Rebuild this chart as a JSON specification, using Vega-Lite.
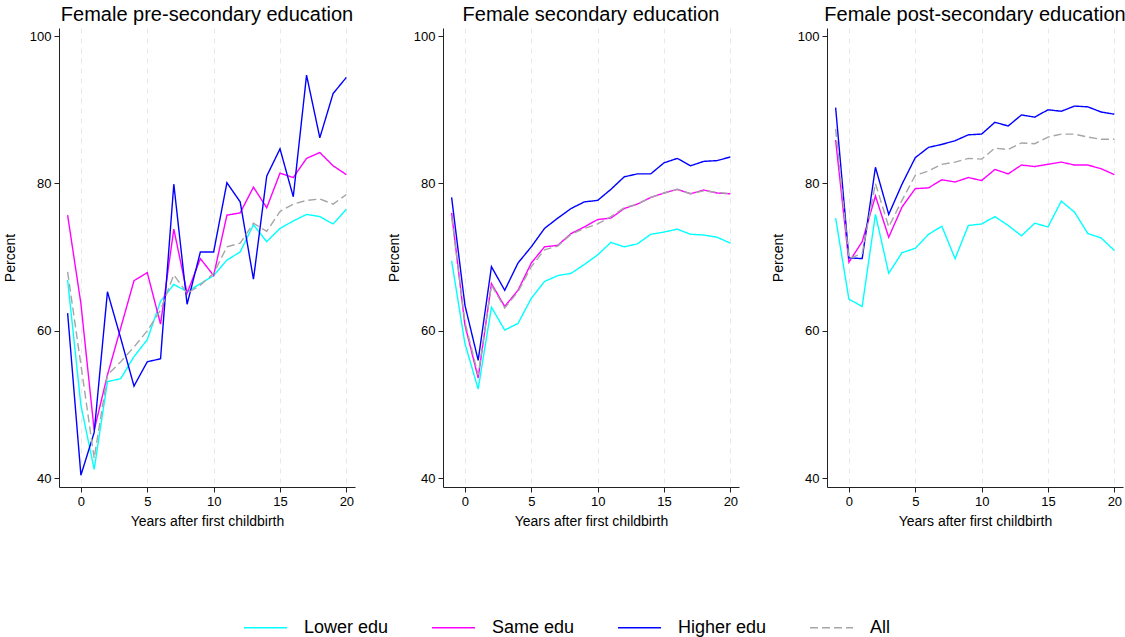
{
  "$schema": "https://vega.github.io/schema/vega-lite/v6.json",
  "background": "white",
  "padding": {"left": 3, "top": 5, "right": 0, "bottom": 0},
  "spacing": 32,
  "config": {
    "font": "Liberation Sans",
    "view": {"stroke": null},
    "title": {"fontSize": 20, "fontWeight": "normal", "color": "#000000", "anchor": "middle", "offset": 3},
    "axis": {
      "domainColor": "#222222", "tickColor": "#222222", "tickSize": 5,
      "labelFontSize": 13, "labelColor": "#000000", "labelPadding": 3,
      "titleFontSize": 14, "titleFontWeight": "normal", "titleColor": "#000000", "titlePadding": 6
    },
    "axisY": {"titlePadding": 12},
    "legend": {
      "orient": "none", "legendX": 184, "legendY": 577, "direction": "horizontal",
      "columns": 4, "columnPadding": 40, "padding": 0,
      "labelFontSize": 18, "labelColor": "#000000", "labelOffset": 16,
      "symbolType": "stroke", "symbolSize": 1849, "symbolStrokeWidth": 1.5
    }
  },
  "data": {"values": [
    {"p":"pre","g":"Lower edu","x":-1,"y":66.9},{"p":"pre","g":"Lower edu","x":0,"y":49.9},{"p":"pre","g":"Lower edu","x":1,"y":41.2},{"p":"pre","g":"Lower edu","x":2,"y":53.1},{"p":"pre","g":"Lower edu","x":3,"y":53.5},{"p":"pre","g":"Lower edu","x":4,"y":56.5},{"p":"pre","g":"Lower edu","x":5,"y":58.8},{"p":"pre","g":"Lower edu","x":6,"y":64.0},{"p":"pre","g":"Lower edu","x":7,"y":66.3},{"p":"pre","g":"Lower edu","x":8,"y":65.3},{"p":"pre","g":"Lower edu","x":9,"y":66.4},{"p":"pre","g":"Lower edu","x":10,"y":67.5},{"p":"pre","g":"Lower edu","x":11,"y":69.6},{"p":"pre","g":"Lower edu","x":12,"y":70.7},{"p":"pre","g":"Lower edu","x":13,"y":74.4},{"p":"pre","g":"Lower edu","x":14,"y":72.1},{"p":"pre","g":"Lower edu","x":15,"y":73.9},{"p":"pre","g":"Lower edu","x":16,"y":74.9},{"p":"pre","g":"Lower edu","x":17,"y":75.8},{"p":"pre","g":"Lower edu","x":18,"y":75.5},{"p":"pre","g":"Lower edu","x":19,"y":74.5},{"p":"pre","g":"Lower edu","x":20,"y":76.5},
    {"p":"pre","g":"Same edu","x":-1,"y":75.7},{"p":"pre","g":"Same edu","x":0,"y":63.7},{"p":"pre","g":"Same edu","x":1,"y":46.5},{"p":"pre","g":"Same edu","x":2,"y":54.0},{"p":"pre","g":"Same edu","x":3,"y":60.4},{"p":"pre","g":"Same edu","x":4,"y":66.8},{"p":"pre","g":"Same edu","x":5,"y":67.9},{"p":"pre","g":"Same edu","x":6,"y":60.9},{"p":"pre","g":"Same edu","x":7,"y":73.8},{"p":"pre","g":"Same edu","x":8,"y":65.1},{"p":"pre","g":"Same edu","x":9,"y":69.8},{"p":"pre","g":"Same edu","x":10,"y":67.5},{"p":"pre","g":"Same edu","x":11,"y":75.7},{"p":"pre","g":"Same edu","x":12,"y":76.0},{"p":"pre","g":"Same edu","x":13,"y":79.5},{"p":"pre","g":"Same edu","x":14,"y":76.7},{"p":"pre","g":"Same edu","x":15,"y":81.4},{"p":"pre","g":"Same edu","x":16,"y":80.8},{"p":"pre","g":"Same edu","x":17,"y":83.4},{"p":"pre","g":"Same edu","x":18,"y":84.2},{"p":"pre","g":"Same edu","x":19,"y":82.4},{"p":"pre","g":"Same edu","x":20,"y":81.2},
    {"p":"pre","g":"Higher edu","x":-1,"y":62.4},{"p":"pre","g":"Higher edu","x":0,"y":40.4},{"p":"pre","g":"Higher edu","x":1,"y":46.2},{"p":"pre","g":"Higher edu","x":2,"y":65.3},{"p":"pre","g":"Higher edu","x":3,"y":59.0},{"p":"pre","g":"Higher edu","x":4,"y":52.5},{"p":"pre","g":"Higher edu","x":5,"y":55.8},{"p":"pre","g":"Higher edu","x":6,"y":56.2},{"p":"pre","g":"Higher edu","x":7,"y":79.9},{"p":"pre","g":"Higher edu","x":8,"y":63.6},{"p":"pre","g":"Higher edu","x":9,"y":70.7},{"p":"pre","g":"Higher edu","x":10,"y":70.7},{"p":"pre","g":"Higher edu","x":11,"y":80.1},{"p":"pre","g":"Higher edu","x":12,"y":77.5},{"p":"pre","g":"Higher edu","x":13,"y":67.0},{"p":"pre","g":"Higher edu","x":14,"y":81.0},{"p":"pre","g":"Higher edu","x":15,"y":84.7},{"p":"pre","g":"Higher edu","x":16,"y":78.2},{"p":"pre","g":"Higher edu","x":17,"y":94.7},{"p":"pre","g":"Higher edu","x":18,"y":86.2},{"p":"pre","g":"Higher edu","x":19,"y":92.2},{"p":"pre","g":"Higher edu","x":20,"y":94.4},
    {"p":"pre","g":"All","x":-1,"y":68.0},{"p":"pre","g":"All","x":0,"y":55.4},{"p":"pre","g":"All","x":1,"y":42.7},{"p":"pre","g":"All","x":2,"y":54.0},{"p":"pre","g":"All","x":3,"y":55.8},{"p":"pre","g":"All","x":4,"y":57.8},{"p":"pre","g":"All","x":5,"y":60.0},{"p":"pre","g":"All","x":6,"y":62.8},{"p":"pre","g":"All","x":7,"y":67.6},{"p":"pre","g":"All","x":8,"y":65.1},{"p":"pre","g":"All","x":9,"y":66.2},{"p":"pre","g":"All","x":10,"y":67.8},{"p":"pre","g":"All","x":11,"y":71.4},{"p":"pre","g":"All","x":12,"y":71.9},{"p":"pre","g":"All","x":13,"y":74.6},{"p":"pre","g":"All","x":14,"y":73.5},{"p":"pre","g":"All","x":15,"y":76.2},{"p":"pre","g":"All","x":16,"y":77.2},{"p":"pre","g":"All","x":17,"y":77.7},{"p":"pre","g":"All","x":18,"y":77.9},{"p":"pre","g":"All","x":19,"y":77.2},{"p":"pre","g":"All","x":20,"y":78.5},
    {"p":"sec","g":"Lower edu","x":-1,"y":69.5},{"p":"sec","g":"Lower edu","x":0,"y":58.3},{"p":"sec","g":"Lower edu","x":1,"y":52.1},{"p":"sec","g":"Lower edu","x":2,"y":63.2},{"p":"sec","g":"Lower edu","x":3,"y":60.1},{"p":"sec","g":"Lower edu","x":4,"y":61.0},{"p":"sec","g":"Lower edu","x":5,"y":64.4},{"p":"sec","g":"Lower edu","x":6,"y":66.7},{"p":"sec","g":"Lower edu","x":7,"y":67.5},{"p":"sec","g":"Lower edu","x":8,"y":67.8},{"p":"sec","g":"Lower edu","x":9,"y":69.0},{"p":"sec","g":"Lower edu","x":10,"y":70.3},{"p":"sec","g":"Lower edu","x":11,"y":72.0},{"p":"sec","g":"Lower edu","x":12,"y":71.4},{"p":"sec","g":"Lower edu","x":13,"y":71.8},{"p":"sec","g":"Lower edu","x":14,"y":73.1},{"p":"sec","g":"Lower edu","x":15,"y":73.4},{"p":"sec","g":"Lower edu","x":16,"y":73.8},{"p":"sec","g":"Lower edu","x":17,"y":73.1},{"p":"sec","g":"Lower edu","x":18,"y":73.0},{"p":"sec","g":"Lower edu","x":19,"y":72.7},{"p":"sec","g":"Lower edu","x":20,"y":71.9},
    {"p":"sec","g":"Same edu","x":-1,"y":76.0},{"p":"sec","g":"Same edu","x":0,"y":60.8},{"p":"sec","g":"Same edu","x":1,"y":53.6},{"p":"sec","g":"Same edu","x":2,"y":66.4},{"p":"sec","g":"Same edu","x":3,"y":63.3},{"p":"sec","g":"Same edu","x":4,"y":65.5},{"p":"sec","g":"Same edu","x":5,"y":69.2},{"p":"sec","g":"Same edu","x":6,"y":71.4},{"p":"sec","g":"Same edu","x":7,"y":71.6},{"p":"sec","g":"Same edu","x":8,"y":73.2},{"p":"sec","g":"Same edu","x":9,"y":74.1},{"p":"sec","g":"Same edu","x":10,"y":75.1},{"p":"sec","g":"Same edu","x":11,"y":75.3},{"p":"sec","g":"Same edu","x":12,"y":76.6},{"p":"sec","g":"Same edu","x":13,"y":77.2},{"p":"sec","g":"Same edu","x":14,"y":78.1},{"p":"sec","g":"Same edu","x":15,"y":78.7},{"p":"sec","g":"Same edu","x":16,"y":79.2},{"p":"sec","g":"Same edu","x":17,"y":78.6},{"p":"sec","g":"Same edu","x":18,"y":79.1},{"p":"sec","g":"Same edu","x":19,"y":78.7},{"p":"sec","g":"Same edu","x":20,"y":78.6},
    {"p":"sec","g":"Higher edu","x":-1,"y":78.1},{"p":"sec","g":"Higher edu","x":0,"y":63.5},{"p":"sec","g":"Higher edu","x":1,"y":56.0},{"p":"sec","g":"Higher edu","x":2,"y":68.7},{"p":"sec","g":"Higher edu","x":3,"y":65.5},{"p":"sec","g":"Higher edu","x":4,"y":69.2},{"p":"sec","g":"Higher edu","x":5,"y":71.4},{"p":"sec","g":"Higher edu","x":6,"y":73.9},{"p":"sec","g":"Higher edu","x":7,"y":75.3},{"p":"sec","g":"Higher edu","x":8,"y":76.6},{"p":"sec","g":"Higher edu","x":9,"y":77.5},{"p":"sec","g":"Higher edu","x":10,"y":77.7},{"p":"sec","g":"Higher edu","x":11,"y":79.2},{"p":"sec","g":"Higher edu","x":12,"y":80.9},{"p":"sec","g":"Higher edu","x":13,"y":81.3},{"p":"sec","g":"Higher edu","x":14,"y":81.3},{"p":"sec","g":"Higher edu","x":15,"y":82.8},{"p":"sec","g":"Higher edu","x":16,"y":83.4},{"p":"sec","g":"Higher edu","x":17,"y":82.4},{"p":"sec","g":"Higher edu","x":18,"y":83.0},{"p":"sec","g":"Higher edu","x":19,"y":83.1},{"p":"sec","g":"Higher edu","x":20,"y":83.6},
    {"p":"sec","g":"All","x":-1,"y":75.5},{"p":"sec","g":"All","x":0,"y":61.2},{"p":"sec","g":"All","x":1,"y":54.0},{"p":"sec","g":"All","x":2,"y":66.2},{"p":"sec","g":"All","x":3,"y":63.1},{"p":"sec","g":"All","x":4,"y":65.3},{"p":"sec","g":"All","x":5,"y":68.7},{"p":"sec","g":"All","x":6,"y":71.0},{"p":"sec","g":"All","x":7,"y":71.5},{"p":"sec","g":"All","x":8,"y":73.1},{"p":"sec","g":"All","x":9,"y":73.9},{"p":"sec","g":"All","x":10,"y":74.5},{"p":"sec","g":"All","x":11,"y":75.5},{"p":"sec","g":"All","x":12,"y":76.7},{"p":"sec","g":"All","x":13,"y":77.2},{"p":"sec","g":"All","x":14,"y":78.1},{"p":"sec","g":"All","x":15,"y":78.7},{"p":"sec","g":"All","x":16,"y":79.2},{"p":"sec","g":"All","x":17,"y":78.6},{"p":"sec","g":"All","x":18,"y":79.0},{"p":"sec","g":"All","x":19,"y":78.8},{"p":"sec","g":"All","x":20,"y":78.6},
    {"p":"post","g":"Lower edu","x":-1,"y":75.3},{"p":"post","g":"Lower edu","x":0,"y":64.3},{"p":"post","g":"Lower edu","x":1,"y":63.3},{"p":"post","g":"Lower edu","x":2,"y":75.8},{"p":"post","g":"Lower edu","x":3,"y":67.8},{"p":"post","g":"Lower edu","x":4,"y":70.6},{"p":"post","g":"Lower edu","x":5,"y":71.2},{"p":"post","g":"Lower edu","x":6,"y":73.1},{"p":"post","g":"Lower edu","x":7,"y":74.2},{"p":"post","g":"Lower edu","x":8,"y":69.8},{"p":"post","g":"Lower edu","x":9,"y":74.3},{"p":"post","g":"Lower edu","x":10,"y":74.5},{"p":"post","g":"Lower edu","x":11,"y":75.5},{"p":"post","g":"Lower edu","x":12,"y":74.3},{"p":"post","g":"Lower edu","x":13,"y":72.9},{"p":"post","g":"Lower edu","x":14,"y":74.6},{"p":"post","g":"Lower edu","x":15,"y":74.1},{"p":"post","g":"Lower edu","x":16,"y":77.6},{"p":"post","g":"Lower edu","x":17,"y":76.1},{"p":"post","g":"Lower edu","x":18,"y":73.2},{"p":"post","g":"Lower edu","x":19,"y":72.6},{"p":"post","g":"Lower edu","x":20,"y":70.9},
    {"p":"post","g":"Same edu","x":-1,"y":85.9},{"p":"post","g":"Same edu","x":0,"y":69.3},{"p":"post","g":"Same edu","x":1,"y":72.1},{"p":"post","g":"Same edu","x":2,"y":78.3},{"p":"post","g":"Same edu","x":3,"y":72.7},{"p":"post","g":"Same edu","x":4,"y":76.8},{"p":"post","g":"Same edu","x":5,"y":79.3},{"p":"post","g":"Same edu","x":6,"y":79.4},{"p":"post","g":"Same edu","x":7,"y":80.5},{"p":"post","g":"Same edu","x":8,"y":80.2},{"p":"post","g":"Same edu","x":9,"y":80.8},{"p":"post","g":"Same edu","x":10,"y":80.4},{"p":"post","g":"Same edu","x":11,"y":81.9},{"p":"post","g":"Same edu","x":12,"y":81.3},{"p":"post","g":"Same edu","x":13,"y":82.5},{"p":"post","g":"Same edu","x":14,"y":82.3},{"p":"post","g":"Same edu","x":15,"y":82.6},{"p":"post","g":"Same edu","x":16,"y":82.9},{"p":"post","g":"Same edu","x":17,"y":82.5},{"p":"post","g":"Same edu","x":18,"y":82.5},{"p":"post","g":"Same edu","x":19,"y":82.0},{"p":"post","g":"Same edu","x":20,"y":81.2},
    {"p":"post","g":"Higher edu","x":-1,"y":90.3},{"p":"post","g":"Higher edu","x":0,"y":69.9},{"p":"post","g":"Higher edu","x":1,"y":69.8},{"p":"post","g":"Higher edu","x":2,"y":82.2},{"p":"post","g":"Higher edu","x":3,"y":75.8},{"p":"post","g":"Higher edu","x":4,"y":79.9},{"p":"post","g":"Higher edu","x":5,"y":83.5},{"p":"post","g":"Higher edu","x":6,"y":84.9},{"p":"post","g":"Higher edu","x":7,"y":85.3},{"p":"post","g":"Higher edu","x":8,"y":85.8},{"p":"post","g":"Higher edu","x":9,"y":86.6},{"p":"post","g":"Higher edu","x":10,"y":86.7},{"p":"post","g":"Higher edu","x":11,"y":88.3},{"p":"post","g":"Higher edu","x":12,"y":87.8},{"p":"post","g":"Higher edu","x":13,"y":89.3},{"p":"post","g":"Higher edu","x":14,"y":89.0},{"p":"post","g":"Higher edu","x":15,"y":90.0},{"p":"post","g":"Higher edu","x":16,"y":89.8},{"p":"post","g":"Higher edu","x":17,"y":90.5},{"p":"post","g":"Higher edu","x":18,"y":90.4},{"p":"post","g":"Higher edu","x":19,"y":89.7},{"p":"post","g":"Higher edu","x":20,"y":89.4},
    {"p":"post","g":"All","x":-1,"y":87.4},{"p":"post","g":"All","x":0,"y":69.8},{"p":"post","g":"All","x":1,"y":70.5},{"p":"post","g":"All","x":2,"y":80.0},{"p":"post","g":"All","x":3,"y":74.1},{"p":"post","g":"All","x":4,"y":77.7},{"p":"post","g":"All","x":5,"y":81.1},{"p":"post","g":"All","x":6,"y":81.7},{"p":"post","g":"All","x":7,"y":82.6},{"p":"post","g":"All","x":8,"y":82.9},{"p":"post","g":"All","x":9,"y":83.4},{"p":"post","g":"All","x":10,"y":83.3},{"p":"post","g":"All","x":11,"y":84.8},{"p":"post","g":"All","x":12,"y":84.6},{"p":"post","g":"All","x":13,"y":85.5},{"p":"post","g":"All","x":14,"y":85.4},{"p":"post","g":"All","x":15,"y":86.3},{"p":"post","g":"All","x":16,"y":86.7},{"p":"post","g":"All","x":17,"y":86.7},{"p":"post","g":"All","x":18,"y":86.3},{"p":"post","g":"All","x":19,"y":86.0},{"p":"post","g":"All","x":20,"y":86.0}
  ]},
  "hconcat": [
    {
      "title": "Female pre-secondary education",
      "width": 296, "height": 459,
      "transform": [{"filter": "datum.p === 'pre'"}],
      "mark": {"type": "line", "strokeWidth": 1.4},
      "encoding": {
        "x": {"field": "x", "type": "quantitative", "scale": {"domain": [-1.65, 20.65], "nice": false, "zero": false}, "axis": {"values": [0, 5, 10, 15, 20], "title": "Years after first childbirth", "grid": true, "gridDash": [5, 5], "gridColor": "#e8e8e8"}},
        "y": {"field": "y", "type": "quantitative", "scale": {"domain": [38.8, 101.1], "nice": false, "zero": false}, "axis": {"values": [40, 60, 80, 100], "title": "Percent", "grid": false}},
        "color": {"field": "g", "type": "nominal", "scale": {"domain": ["Lower edu", "Same edu", "Higher edu", "All"], "range": ["#00ffff", "#ff00ff", "#0000ff", "#a5a5a5"]}, "legend": {"title": null}},
        "strokeDash": {"field": "g", "type": "nominal", "scale": {"domain": ["Lower edu", "Same edu", "Higher edu", "All"], "range": [[1, 0], [1, 0], [1, 0], [8, 4]]}, "legend": {"title": null}}
      }
    },
    {
      "title": "Female secondary education",
      "width": 296, "height": 459,
      "transform": [{"filter": "datum.p === 'sec'"}],
      "mark": {"type": "line", "strokeWidth": 1.4},
      "encoding": {
        "x": {"field": "x", "type": "quantitative", "scale": {"domain": [-1.65, 20.65], "nice": false, "zero": false}, "axis": {"values": [0, 5, 10, 15, 20], "title": "Years after first childbirth", "grid": true, "gridDash": [5, 5], "gridColor": "#e8e8e8"}},
        "y": {"field": "y", "type": "quantitative", "scale": {"domain": [38.8, 101.1], "nice": false, "zero": false}, "axis": {"values": [40, 60, 80, 100], "title": "Percent", "grid": false}},
        "color": {"field": "g", "type": "nominal", "scale": {"domain": ["Lower edu", "Same edu", "Higher edu", "All"], "range": ["#00ffff", "#ff00ff", "#0000ff", "#a5a5a5"]}, "legend": {"title": null}},
        "strokeDash": {"field": "g", "type": "nominal", "scale": {"domain": ["Lower edu", "Same edu", "Higher edu", "All"], "range": [[1, 0], [1, 0], [1, 0], [8, 4]]}, "legend": {"title": null}}
      }
    },
    {
      "title": "Female post-secondary education",
      "width": 296, "height": 459,
      "transform": [{"filter": "datum.p === 'post'"}],
      "mark": {"type": "line", "strokeWidth": 1.4},
      "encoding": {
        "x": {"field": "x", "type": "quantitative", "scale": {"domain": [-1.65, 20.65], "nice": false, "zero": false}, "axis": {"values": [0, 5, 10, 15, 20], "title": "Years after first childbirth", "grid": true, "gridDash": [5, 5], "gridColor": "#e8e8e8"}},
        "y": {"field": "y", "type": "quantitative", "scale": {"domain": [38.8, 101.1], "nice": false, "zero": false}, "axis": {"values": [40, 60, 80, 100], "title": "Percent", "grid": false}},
        "color": {"field": "g", "type": "nominal", "scale": {"domain": ["Lower edu", "Same edu", "Higher edu", "All"], "range": ["#00ffff", "#ff00ff", "#0000ff", "#a5a5a5"]}, "legend": {"title": null}},
        "strokeDash": {"field": "g", "type": "nominal", "scale": {"domain": ["Lower edu", "Same edu", "Higher edu", "All"], "range": [[1, 0], [1, 0], [1, 0], [8, 4]]}, "legend": {"title": null}}
      }
    }
  ]
}
